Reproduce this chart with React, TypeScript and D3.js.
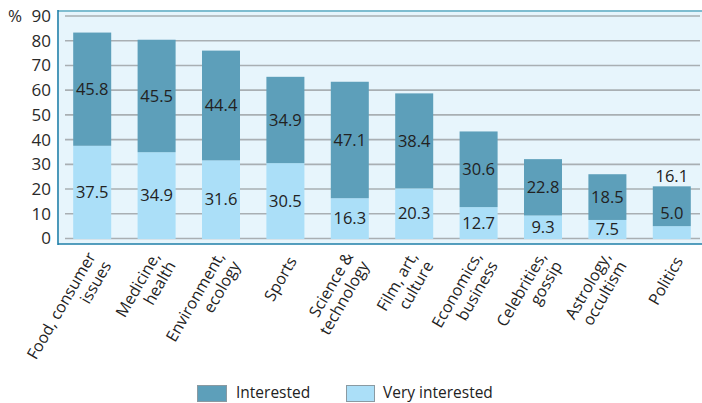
import * as d3 from 'd3';
import React from 'react';

const categories = [
  'Food, consumer|issues',
  'Medicine,|health',
  'Environment,|ecology',
  'Sports',
  'Science &|technology',
  'Film, art,|culture',
  'Economics,|business',
  'Celebrities,|gossip',
  'Astrology,|occultism',
  'Politics',
];
const veryInterested = [37.5, 34.9, 31.6, 30.5, 16.3, 20.3, 12.7, 9.3, 7.5, 5.0];
const interested = [45.8, 45.5, 44.4, 34.9, 47.1, 38.4, 30.6, 22.8, 18.5, 16.1];
const yTicks = [0, 10, 20, 30, 40, 50, 60, 70, 80, 90];

const W = 702;
const H = 403;
const DARK = '#5d9fba';
const LIGHT = '#abdff8';
const FONT = '"Open Sans", "Noto Sans", sans-serif';

export default function App() {
  const x = d3
    .scaleBand<string>()
    .domain(categories)
    .range([60, 704])
    .paddingInner(0.41)
    .paddingOuter(0.205);
  const y = d3.scaleLinear().domain([0, 90]).range([238.5, 16]);
  const bw = x.bandwidth();

  return (
    <svg
      width={W}
      height={H}
      style={{ position: 'absolute', left: 0, top: 0, fontFamily: FONT }}
    >
      <rect x={0} y={0} width={W} height={H} fill="#fff" />
      {/* plot area */}
      <rect x={59} y={11} width={W - 59} height={233} fill="#e7f5fc" />
      {yTicks.map((t) => (
        <g key={t}>
          <line x1={65} x2={700} y1={y(t)} y2={y(t)} stroke="#a9afb3" strokeWidth={1.6} />
          <text x={51} y={y(t)} dy="0.35em" textAnchor="end" fontSize={17} fill="#2a2a2a">
            {t}
          </text>
        </g>
      ))}
      <text x={8} y={y(90)} dy="0.35em" fontSize={17} fill="#2a2a2a">%</text>
      <line x1={58} x2={W} y1={11} y2={11} stroke="#7fbdd0" strokeWidth={2} />
      <line x1={58} x2={58} y1={10} y2={245} stroke="#1f7fa9" strokeWidth={1.6} />
      <line x1={58} x2={W} y1={244} y2={244} stroke="#1f7fa9" strokeWidth={1.6} />

      {categories.map((c, i) => {
        const x0 = x(c)!;
        const cx = x0 + bw / 2;
        const v = veryInterested[i];
        const total = v + interested[i];
        const small = v < 6;
        const lightLabelY = small ? y(v + 5.2) : y(v / 2);
        const darkLabelY = small ? y(total + 4.2) : y(v + interested[i] / 2);
        return (
          <g key={c}>
            <rect x={x0} y={y(v)} width={bw} height={y(0) - y(v) + 0.5} fill={LIGHT} />
            <rect x={x0} y={y(total)} width={bw} height={y(v) - y(total)} fill={DARK} />
            <text x={cx} y={darkLabelY} dy="0.35em" textAnchor="middle" fontSize={16.5} fill="#222">
              {interested[i].toFixed(1)}
            </text>
            <text x={cx} y={lightLabelY} dy="0.35em" textAnchor="middle" fontSize={16.5} fill="#222">
              {v.toFixed(1)}
            </text>
          </g>
        );
      })}

      {categories.map((c) => {
        const lines = c.split('|');
        const cx = x(c)! + bw / 2;
        return (
          <g key={'l' + c} transform={`translate(${cx + 7},258) rotate(-60)`}>
            <text textAnchor="end" fontSize={16} fill="#222">
              {lines.map((l, j) => (
                <tspan key={j} x={0} dy={j === 0 ? `${0.35 - ((lines.length - 1) / 2) * 1.13}em` : '1.13em'}>
                  {l}
                </tspan>
              ))}
            </text>
          </g>
        );
      })}

      {/* legend */}
      <rect x={197.5} y={385.5} width={29} height={16} fill={DARK} stroke="#8a9aa2" strokeWidth={1} />
      <text x={236} y={392.5} dy="0.35em" fontSize={15.5} fill="#222">Interested</text>
      <rect x={346.5} y={385.5} width={28} height={16} fill={LIGHT} stroke="#8a9aa2" strokeWidth={1} />
      <text x={383} y={392.5} dy="0.35em" fontSize={15.5} fill="#222">Very interested</text>
    </svg>
  );
}
